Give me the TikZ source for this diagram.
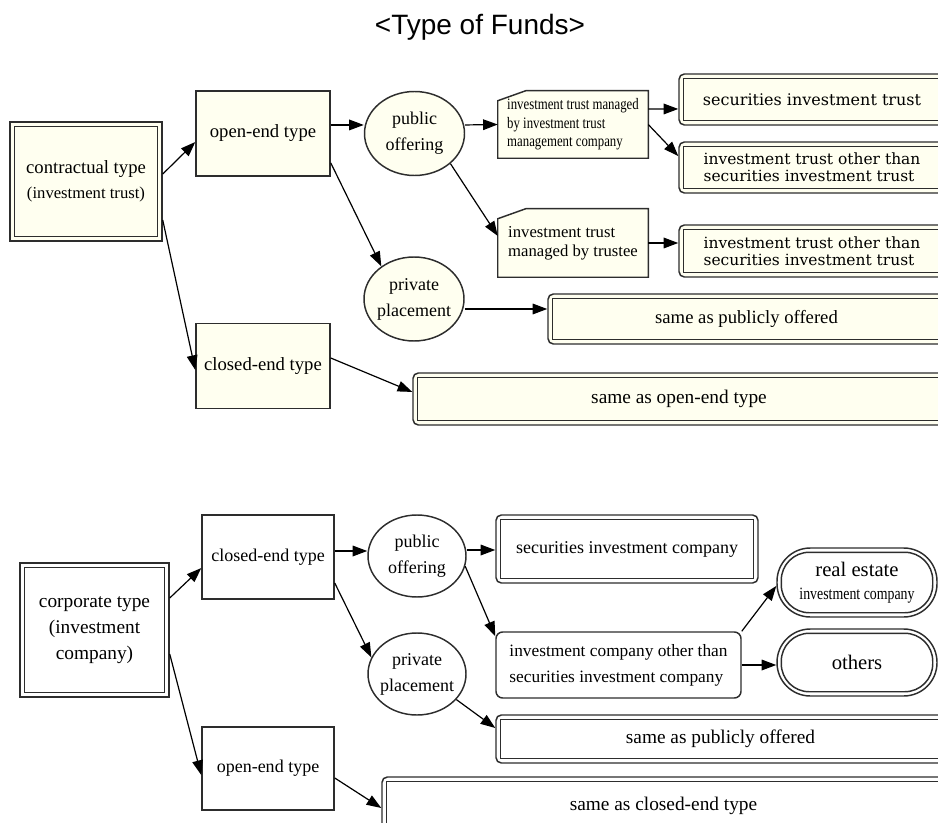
\documentclass[tikz,border=0pt]{standalone}
\usepackage{fontspec}
\setmainfont{Liberation Serif}
\newfontfamily\wideserif{DejaVu Serif}
\newfontfamily\narrowserif[FakeStretch=0.8]{Liberation Serif}
\newfontfamily\titlesans{Liberation Sans}
\usepackage{tikz}
\usetikzlibrary{positioning,arrows.meta,calc,backgrounds,shapes.geometric}
\definecolor{cream}{RGB}{255,255,240}
\definecolor{edgegray}{RGB}{45,45,45}
\newcommand{\fs}[2]{\fontsize{#1pt}{#2pt}\selectfont}
\tikzset{
    >={Triangle[length=11pt,width=8pt]},
    block/.style = {
        draw=edgegray,
        shape=rectangle,
        line width=1.1pt,
        inner sep=2pt,
        align=center
    },
    dround/.style = {
        block,
        rounded corners=4pt
    },
    pill/.style = {
        block,
        rounded corners=25pt
    },
    oval/.style = {
        draw=edgegray,
        shape=ellipse,
        line width=1.1pt,
        inner xsep=-3pt,
        inner ysep=0pt,
        minimum width=75pt,
        minimum height=63pt,
        align=center,
        font=\fs{13.5}{19.5}
    },
    card/.style = {
        shape=rectangle,
        minimum width=112.5pt,
        align=left
    },
    cardline/.style = {
        draw=edgegray,
        fill=cream,
        line width=1.1pt
    },
    innerline/.style = {
        draw=edgegray,
        line width=1.1pt
    },
    link/.style = {
        draw,
        ->,
        line width=0.9pt
    },
}
\begin{document}
\begin{tikzpicture}[x=0.75pt,y=-0.75pt]
    \useasboundingbox (0,0) rectangle (938,823);
    \clip (0,0) rectangle (938,823);

    \node[font=\titlesans\fs{21}{24}] (heading) at (480,27) {<Type of Funds>};

    % contractual type
    \node[block, fill=cream, minimum width=114pt, minimum height=89.25pt, font=\fs{14}{19}] (contract) at (86,181.5)
        {contractual type\\{\fs{12.5}{19}(investment trust)}};
    \node[block, fill=cream, minimum width=100.5pt, minimum height=63.75pt, font=\fs{14}{19}] (topen) at (263,133.5) {open-end type};
    \node[block, fill=cream, minimum width=100.5pt, minimum height=63.75pt, font=\fs{14}{19}] (tclosed) at (263,366) {closed-end type};
    \node[oval, fill=cream] (tpub) at (414.5,133.5) {public\\offering};
    \node[oval, fill=cream] (tpriv) at (414,299) {private\\placement};
    \node[card, minimum height=50.25pt, font=\narrowserif\fs{12}{14}] (timc) at (573,124.5)
        {investment trust managed\\by investment trust\\management company};
    \node[card, minimum height=51pt, font=\fs{12.5}{14.25}] (ttru) at (573,243)
        {investment trust\\managed by trustee};
    \node[dround, fill=cream, minimum width=199.5pt, minimum height=38.25pt, font=\wideserif\fs{12}{14}] (tsit) at (812,99.5)
        {securities investment trust};
    \node[dround, fill=cream, minimum width=199.5pt, minimum height=38.25pt, align=left, font=\wideserif\fs{11.6}{12.75}] (toth1) at (812,167.5)
        {investment trust other than\\securities investment trust};
    \node[dround, fill=cream, minimum width=199.5pt, minimum height=39pt, align=left, font=\wideserif\fs{11.6}{12.75}] (toth2) at (812,251)
        {investment trust other than\\securities investment trust};
    \node[dround, fill=cream, minimum width=297.75pt, minimum height=37.5pt, font=\fs{14}{17}] (tsame1) at (746.5,319)
        {same as publicly offered};
    \node[dround, fill=cream, minimum width=399pt, minimum height=39pt, font=\fs{14.5}{17}] (tsame2) at (679,399)
        {same as open-end type};

    % corporate type
    \node[block, minimum width=111.75pt, minimum height=100.5pt, font=\fs{14.5}{19.5}] (corp) at (94.5,630)
        {corporate type\\(investment\\company)};
    \node[block, minimum width=99pt, minimum height=63pt, font=\fs{13.5}{17}] (bclosed) at (268,557) {closed-end type};
    \node[block, minimum width=99pt, minimum height=62.25pt, font=\fs{13.5}{17}] (bopen) at (268,768.5) {open-end type};
    \node[oval, minimum width=73.5pt, minimum height=61.5pt] (bpub) at (417,556) {public\\offering};
    \node[oval, minimum width=73.5pt, minimum height=61.5pt] (bpriv) at (417,674) {private\\placement};
    \node[dround, minimum width=196.5pt, minimum height=51pt, font=\fs{13.5}{17}] (bsic) at (627,549)
        {securities investment company};
    \node[block, rounded corners=5pt, minimum width=183.75pt, minimum height=49.5pt, align=left, font=\fs{13}{19.5}] (bother) at (618.5,665)
        {investment company other than\\securities investment company};
    \node[pill, minimum width=120pt, minimum height=51.75pt, font=\fs{15.5}{17}] (breal) at (857,582.5)
        {real estate\\{\narrowserif\fs{13}{15}investment company}};
    \node[pill, minimum width=120pt, minimum height=50.25pt, font=\fs{15.5}{17}] (bothers) at (857,662.5) {others};
    \node[dround, minimum width=336.75pt, minimum height=36pt, font=\fs{14.5}{17}] (bsame1) at (720.5,739)
        {same as publicly offered};
    \node[dround, minimum width=422.25pt, minimum height=43.5pt, font=\fs{14.5}{17}] (bsame2) at (663.5,806)
        {same as closed-end type};

    % card outlines and inner lines
    \begin{scope}[on background layer]
        \foreach \n in {timc,ttru}
            \path[cardline] ($(\n.north west)+(0,10)$) -- ($(\n.north west)+(28,0)$) -- (\n.north east)
                -- (\n.south east) -- (\n.south west) -- cycle;
    \end{scope}
    \foreach \n in {contract,tsit,toth1,toth2,tsame1,tsame2,corp,bsic,bsame1,bsame2}
        \path[innerline] ($(\n.north west)+(5,5)$) rectangle ($(\n.south east)+(-5,-5)$);
    \foreach \n in {breal,bothers}
        \path[innerline, rounded corners=21pt] ($(\n.north west)+(5,5)$) rectangle ($(\n.south east)+(-5,-5)$);

    %connect top
    \path[link] ([yshift=5.6pt]contract.east) -- ([yshift=-6.4pt]topen.west);
    \path[link] ([yshift=-28.9pt]contract.east) -- ([yshift=-3pt]tclosed.west);
    \path[link] ([yshift=6.4pt]topen.east) -- ([yshift=6.4pt]tpub.west);
    \path[link] ([yshift=-22pt]topen.east) -- (tpriv.135);
    \path[link] ([yshift=6.4pt]tpub.east) -- (timc.west);
    \path[link] (tpub.-40) -- ([yshift=5.3pt]ttru.west);
    \path[link] ([yshift=11.6pt]timc.east) -- ([yshift=-7.1pt]tsit.west);
    \path[link] (timc.east) -- ([yshift=8.6pt]toth1.west);
    \path[link] (ttru.east) -- (ttru.east -| toth2.west);
    \path[link] ([yshift=-7.5pt]tpriv.east) -- ([yshift=7.5pt]tsame1.west);
    \path[link] ([yshift=6pt]tclosed.east) -- ([yshift=5.3pt]tsame2.west);

    %connect bottom
    \path[link] ([yshift=24pt]corp.east) -- ([yshift=-8.3pt]bclosed.west);
    \path[link] ([yshift=-18pt]corp.east) -- ([yshift=-4.9pt]bopen.west);
    \path[link] ([yshift=4.5pt]bclosed.east) -- ([yshift=3.75pt]bpub.west);
    \path[link] ([yshift=-19.5pt]bclosed.east) -- (bpriv.160);
    \path[link] ([yshift=4.5pt]bpub.east) -- ([yshift=-0.75pt]bsic.west);
    \path[link] (bpub.-12) -- ([yshift=-3.75pt]bother.north west);
    \path[link] (bpriv.-33) -- ([yshift=8.25pt]bsame1.west);
    \path[link] ([yshift=-7.1pt]bopen.east) -- ([yshift=-1.5pt]bsame2.west);
    \path[link] (bother.north east) -- ([yshift=-2.6pt]breal.west);
    \path[link] (bother.east) -- (bother.east -| bothers.west);
\end{tikzpicture}
\end{document}
